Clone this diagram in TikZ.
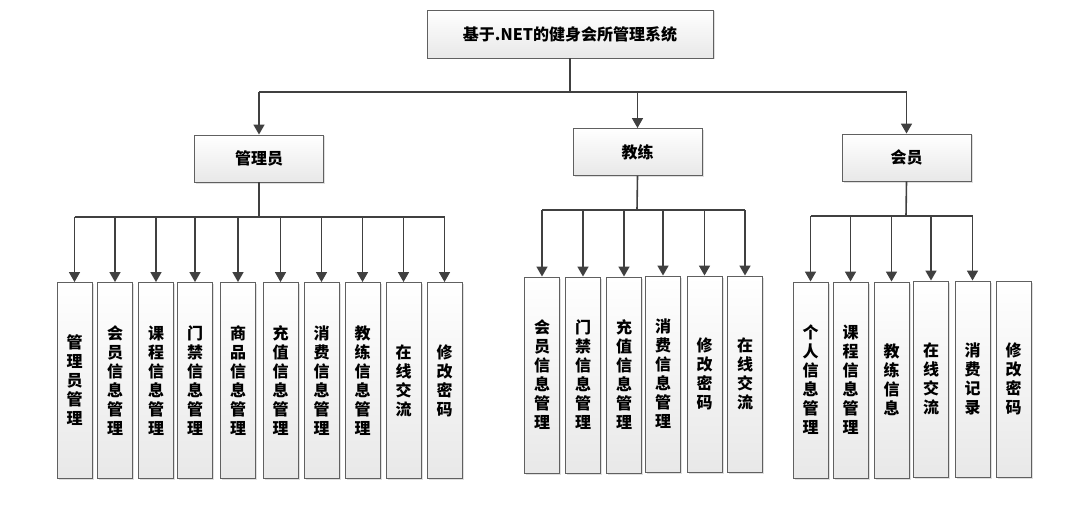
\documentclass[tikz,border=0pt]{standalone}
\usepackage{fontspec}
\newfontfamily\cjk{Noto Sans CJK SC}
\usetikzlibrary{arrows.meta,shadows}
\tikzset{
  box/.style={draw=gray!75!black, line width=0.9pt, top color=white, bottom color=gray!18,
    drop shadow={shadow xshift=1.5pt, shadow yshift=-1.5pt, opacity=0.25},
    inner sep=0pt, font=\cjk\bfseries\fontsize{16}{19}\selectfont, text=black, align=center},
  leaf/.style={box, minimum width=35pt, minimum height=196pt},
  mid/.style={box, minimum width=129pt, minimum height=47pt},
  line/.style={draw=black!75, line width=1.6pt},
  arr/.style={line, -{Triangle[length=10pt,width=11pt]}}
}
\begin{document}
\begin{tikzpicture}[x=1pt,y=-1pt]
\useasboundingbox (0,0) rectangle (1084,508);
\node[box, minimum width=286pt, minimum height=48pt] (top) at (570,34) {基于.NET的健身会所管理系统};
\node[mid] (admin) at (259,158.5) {管理员};
\node[mid] (coach) at (637.5,152) {教练};
\node[mid] (member) at (906.5,157.5) {会员};
\coordinate (busTop) at (570,92);
\coordinate (busA) at (259,217);
\coordinate (busC) at (637,210);
\coordinate (busM) at (906,216);
% admin leaves
\node[leaf] (a1) at (74.5,380.5) {管\\理\\员\\管\\理};
\node[leaf] (a2) at (115,380.5) {会\\员\\信\\息\\管\\理};
\node[leaf] (a3) at (156,380.5) {课\\程\\信\\息\\管\\理};
\node[leaf] (a4) at (195,380.5) {门\\禁\\信\\息\\管\\理};
\node[leaf] (a5) at (238,380.5) {商\\品\\信\\息\\管\\理};
\node[leaf] (a6) at (280.5,380.5) {充\\值\\信\\息\\管\\理};
\node[leaf] (a7) at (321.5,380.5) {消\\费\\信\\息\\管\\理};
\node[leaf] (a8) at (362.5,380.5) {教\\练\\信\\息\\管\\理};
\node[leaf] (a9) at (403.5,380.5) {在\\线\\交\\流};
\node[leaf] (a10) at (444.5,380.5) {修\\改\\密\\码};
% coach leaves
\node[leaf] (c1) at (542,375) {会\\员\\信\\息\\管\\理};
\node[leaf] (c2) at (583,375) {门\\禁\\信\\息\\管\\理};
\node[leaf] (c3) at (624,375) {充\\值\\信\\息\\管\\理};
\node[leaf] (c4) at (663,374) {消\\费\\信\\息\\管\\理};
\node[leaf] (c5) at (704.5,374) {修\\改\\密\\码};
\node[leaf] (c6) at (745,374) {在\\线\\交\\流};
% member leaves
\node[leaf] (m1) at (810.5,380) {个\\人\\信\\息\\管\\理};
\node[leaf] (m2) at (850.5,380) {课\\程\\信\\息\\管\\理};
\node[leaf] (m3) at (891.5,380) {教\\练\\信\\息};
\node[leaf] (m4) at (931,379) {在\\线\\交\\流};
\node[leaf] (m5) at (972.5,379) {消\\费\\记\\录};
\node[leaf] (m6) at (1013.5,379) {修\\改\\密\\码};
% top level connectors
\draw[line] (top.south) -- (top.south |- busTop);
\draw[line] (admin.north |- busTop) -- (member.north |- busTop);
\foreach \n in {admin,coach,member} \draw[arr] (\n.north |- busTop) -- (\n.north);
% admin
\draw[line] (admin.south) -- (busA);
\draw[line] (a1.north |- busA) -- (a10.north |- busA);
\foreach \n in {a1,a2,a3,a4,a5,a6,a7,a8,a9,a10} \draw[arr] (\n.north |- busA) -- (\n.north);
% coach
\draw[line] (coach.south) -- (busC);
\draw[line] (c1.north |- busC) -- (c6.north |- busC);
\foreach \n in {c1,c2,c3,c4,c5,c6} \draw[arr] (\n.north |- busC) -- (\n.north);
% member
\draw[line] (member.south) -- (busM);
\draw[line] (m1.north |- busM) -- (m5.north |- busM);
\foreach \n in {m1,m2,m3,m4,m5} \draw[arr] (\n.north |- busM) -- (\n.north);
\end{tikzpicture}
\end{document}
